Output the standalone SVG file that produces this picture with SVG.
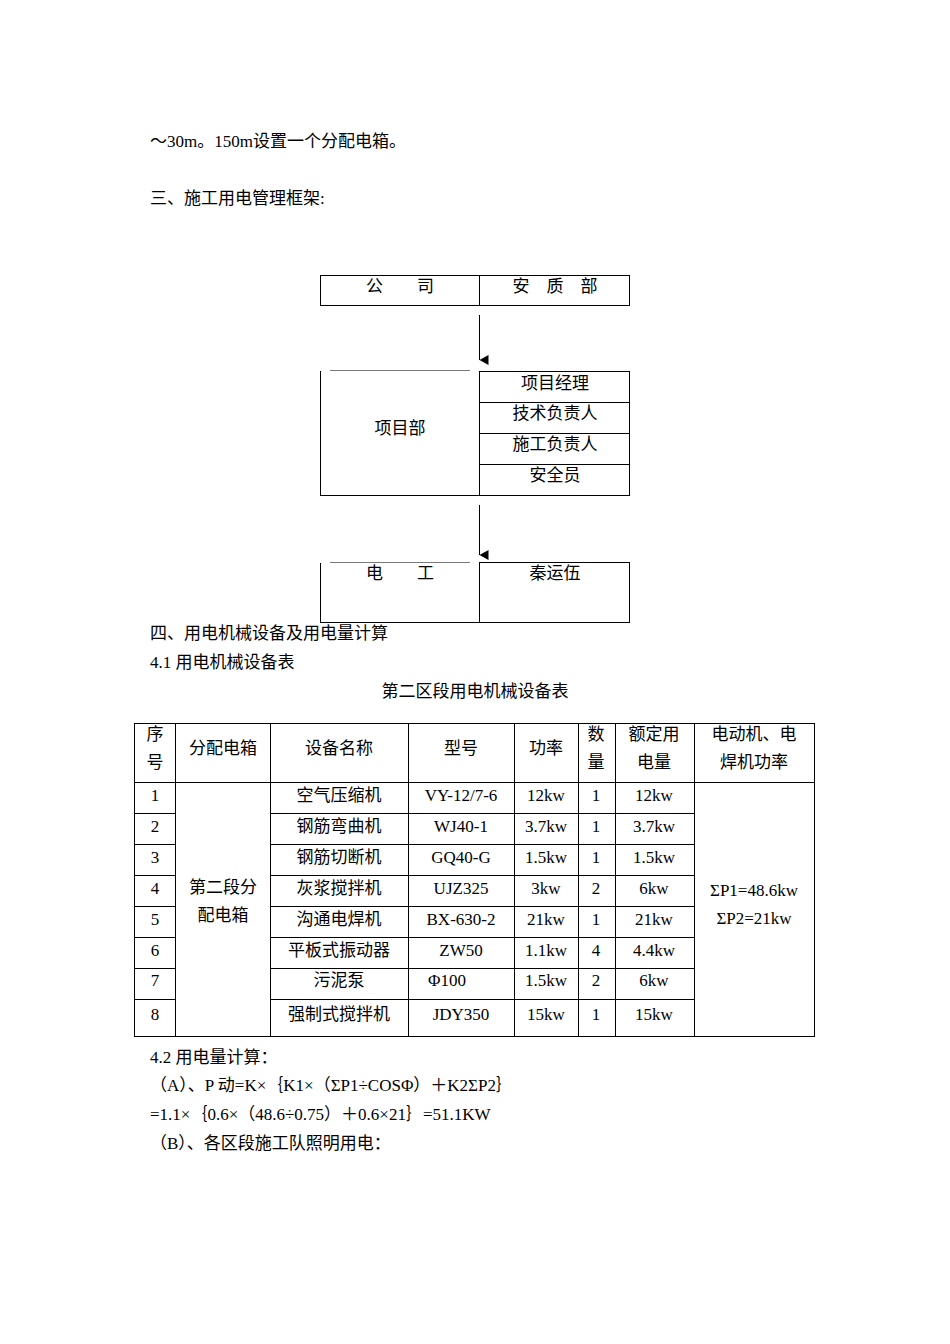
<svg xmlns="http://www.w3.org/2000/svg" width="950" height="1344" viewBox="0 0 950 1344">
<style>
text{font-family:"Liberation Serif","Noto Sans CJK SC",serif;font-size:17px;fill:#000}
.c{text-anchor:middle}
.l{stroke:#000;stroke-width:1;fill:none}
.g{stroke:#777;stroke-width:1.2}
</style>
<defs><marker id="a" markerWidth="10" markerHeight="10" refX="5" refY="9" orient="auto" markerUnits="userSpaceOnUse"><path d="M0,0 L10,0 L5,9 Z" fill="#000"/></marker></defs>
<rect width="950" height="1344" fill="#fff"/>
<text x="150" y="147">～30m。150m设置一个分配电箱。</text>
<text x="150" y="204">三、施工用电管理框架:</text>
<g id="company"><rect class="l" x="320.5" y="275.5" width="309" height="30"/><line class="l" x1="479.5" y1="275" x2="479.5" y2="305"/>
<text x="400" y="292" class="c">公　　司</text><text x="555" y="292" class="c">安　质　部</text></g>
<g id="xmb"><line class="l" x1="320.5" y1="371" x2="320.5" y2="495.5"/><line class="g" x1="330" y1="370.5" x2="470" y2="370.5"/>
<line class="l" x1="320" y1="495.5" x2="630" y2="495.5"/>
<rect class="l" x="479.5" y="371.5" width="150" height="124"/>
<line class="l" x1="479" y1="402.5" x2="630" y2="402.5"/><line class="l" x1="479" y1="433.5" x2="630" y2="433.5"/><line class="l" x1="479" y1="464.5" x2="630" y2="464.5"/>
<text x="400" y="434" class="c">项目部</text>
<text x="555" y="389" class="c">项目经理</text><text x="555" y="419" class="c">技术负责人</text><text x="555" y="450" class="c">施工负责人</text><text x="555" y="481" class="c">安全员</text></g>
<g id="dg"><line class="l" x1="320.5" y1="563" x2="320.5" y2="622.5"/><line class="g" x1="330" y1="562.5" x2="470" y2="562.5"/>
<line class="l" x1="320" y1="622.5" x2="630" y2="622.5"/><rect class="l" x="479.5" y="562.5" width="150" height="60"/>
<text x="400" y="579" class="c">电　　工</text><text x="555" y="579" class="c">秦运伍</text></g>
<g id="connectors"><line class="l" x1="479.5" y1="315" x2="479.5" y2="360" marker-end="url(#a)"/><line class="l" x1="479.5" y1="505" x2="479.5" y2="555" marker-end="url(#a)"/></g>
<text x="150" y="639">四、用电机械设备及用电量计算</text>
<text x="150" y="668">4.1 用电机械设备表</text>
<text x="475" y="697" class="c">第二区段用电机械设备表</text>
<g id="table" class="l">
<rect x="134.5" y="723.5" width="680" height="313"/>
<line x1="134" y1="782.5" x2="815" y2="782.5"/>
<line x1="175.5" y1="723" x2="175.5" y2="1037"/><line x1="270.5" y1="723" x2="270.5" y2="1037"/><line x1="408.5" y1="723" x2="408.5" y2="1037"/><line x1="514.5" y1="723" x2="514.5" y2="1037"/><line x1="578.5" y1="723" x2="578.5" y2="1037"/><line x1="615.5" y1="723" x2="615.5" y2="1037"/><line x1="694.5" y1="723" x2="694.5" y2="1037"/>
<path d="M134 813.5H175M270 813.5H694M134 844.5H175M270 844.5H694M134 875.5H175M270 875.5H694M134 906.5H175M270 906.5H694M134 937.5H175M270 937.5H694M134 968.5H175M270 968.5H694M134 999.5H175M270 999.5H694"/>
</g>
<g class="c">
<text x="155" y="740">序</text><text x="155" y="768">号</text>
<text x="223" y="754">分配电箱</text><text x="339" y="754">设备名称</text><text x="461" y="754">型号</text><text x="546" y="754">功率</text>
<text x="596" y="740">数</text><text x="596" y="768">量</text><text x="654" y="740">额定用</text><text x="654" y="768">电量</text>
<text x="754" y="740">电动机、电</text><text x="754" y="768">焊机功率</text>
<text x="223" y="893">第二段分</text><text x="223" y="921">配电箱</text>
<text x="754" y="896">ΣP1=48.6kw</text><text x="754" y="924">ΣP2=21kw</text>
</g>
<g class="c">
<text x="155" y="801">1</text><text x="339" y="801">空气压缩机</text><text x="461" y="801">VY-12/7-6</text><text x="546" y="801">12kw</text><text x="596" y="801">1</text><text x="654" y="801">12kw</text>
<text x="155" y="832">2</text><text x="339" y="832">钢筋弯曲机</text><text x="461" y="832">WJ40-1</text><text x="546" y="832">3.7kw</text><text x="596" y="832">1</text><text x="654" y="832">3.7kw</text>
<text x="155" y="863">3</text><text x="339" y="863">钢筋切断机</text><text x="461" y="863">GQ40-G</text><text x="546" y="863">1.5kw</text><text x="596" y="863">1</text><text x="654" y="863">1.5kw</text>
<text x="155" y="894">4</text><text x="339" y="894">灰浆搅拌机</text><text x="461" y="894">UJZ325</text><text x="546" y="894">3kw</text><text x="596" y="894">2</text><text x="654" y="894">6kw</text>
<text x="155" y="925">5</text><text x="339" y="925">沟通电焊机</text><text x="461" y="925">BX-630-2</text><text x="546" y="925">21kw</text><text x="596" y="925">1</text><text x="654" y="925">21kw</text>
<text x="155" y="956">6</text><text x="339" y="956">平板式振动器</text><text x="461" y="956">ZW50</text><text x="546" y="956">1.1kw</text><text x="596" y="956">4</text><text x="654" y="956">4.4kw</text>
<text x="155" y="986">7</text><text x="339" y="986">污泥泵</text><text x="447" y="986">Φ100</text><text x="546" y="986">1.5kw</text><text x="596" y="986">2</text><text x="654" y="986">6kw</text>
<text x="155" y="1020">8</text><text x="339" y="1020">强制式搅拌机</text><text x="461" y="1020">JDY350</text><text x="546" y="1020">15kw</text><text x="596" y="1020">1</text><text x="654" y="1020">15kw</text>
</g>
<text x="150" y="1063">4.2 用电量计算：</text>
<text x="150" y="1091">（A）、P 动=K×｛K1×（ΣP1÷COSΦ）＋K2ΣP2｝</text>
<text x="150" y="1120">=1.1×｛0.6×（48.6÷0.75）＋0.6×21｝=51.1KW</text>
<text x="150" y="1149">（B）、各区段施工队照明用电：</text>
</svg>
